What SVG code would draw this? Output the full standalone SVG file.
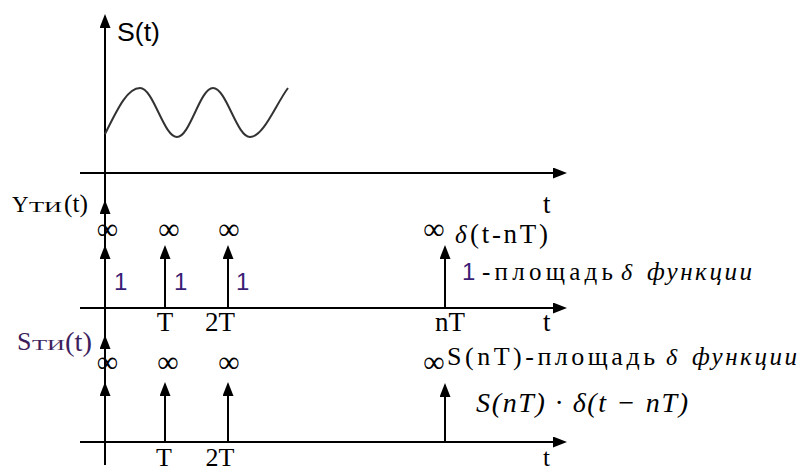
<svg xmlns="http://www.w3.org/2000/svg" width="803" height="471" viewBox="0 0 803 471">
<defs>
<marker id="ah" viewBox="0 0 14 11" refX="10" refY="5.5" markerWidth="14" markerHeight="11" markerUnits="userSpaceOnUse" orient="auto">
<path d="M0,0 L14,5.5 L0,11 z" fill="#000"/>
</marker>
<style>
.ax{stroke:#000;stroke-width:2;fill:none;marker-end:url(#ah)}
.sr{font-family:"Liberation Serif","Times New Roman","DejaVu Serif",serif;fill:#000}
.si{font-family:"Liberation Serif","Times New Roman","DejaVu Serif",serif;font-style:italic;fill:#000}
.ss{font-family:"Liberation Sans",Arial,sans-serif;fill:#000}
.inf{font-family:"Liberation Serif","Times New Roman","DejaVu Serif",serif;font-size:30px;fill:#000;text-anchor:middle}
.one{font-family:"Liberation Sans",Arial,sans-serif;font-size:24px;fill:#3b1e74}
.pur{fill:#3e1f5e}
</style>
</defs>
<rect width="803" height="471" fill="#fff"/>

<g id="connectors">
<line class="ax" x1="105" y1="465" x2="105" y2="18"/>
<line class="ax" x1="80" y1="173" x2="563" y2="173"/>
<line class="ax" x1="80" y1="308" x2="563" y2="308"/>
<line class="ax" x1="80" y1="442" x2="563" y2="442"/>
<line class="ax" x1="105" y1="222" x2="105" y2="204"/>
<line class="ax" x1="105" y1="308" x2="105" y2="249"/>
<line class="ax" x1="165" y1="308" x2="165" y2="249"/>
<line class="ax" x1="228" y1="308" x2="228" y2="249"/>
<line class="ax" x1="445" y1="308" x2="445" y2="249"/>
<line class="ax" x1="105" y1="356" x2="105" y2="339"/>
<line class="ax" x1="105" y1="442" x2="105" y2="386"/>
<line class="ax" x1="165" y1="442" x2="165" y2="386"/>
<line class="ax" x1="228" y1="442" x2="228" y2="386"/>
<line class="ax" x1="445" y1="442" x2="445" y2="387"/>
</g>

<g id="signal">
<path d="M105,134 C117,110 127,88 140,88 C153.4,88 163.6,137 177,137 C190.1,137 199.9,88 213,88 C226.4,88 236.6,137 250,137 C263.5,137 276,104 288,88" stroke="#333" stroke-width="2" fill="none"/>
<text class="ss" x="117" y="41" font-size="26" textLength="43" lengthAdjust="spacingAndGlyphs">S(t)</text>
<text class="sr" x="543" y="213" font-size="27">t</text>
</g>

<g id="impulses">
<text class="sr" x="12" y="212" font-size="23">Y</text>
<text class="sr" x="29" y="212" font-size="15" textLength="33" lengthAdjust="spacingAndGlyphs">ТИ</text>
<text class="sr" x="64" y="212" font-size="25" textLength="24" lengthAdjust="spacingAndGlyphs">(t)</text>
<text class="inf" x="107.5" y="239">∞</text>
<text class="inf" x="169" y="239">∞</text>
<text class="inf" x="229" y="239">∞</text>
<text class="inf" x="434" y="239">∞</text>
<text class="si" x="455" y="243" font-size="25">δ</text>
<text class="sr" x="470" y="243" font-size="27" textLength="78" lengthAdjust="spacing">(t-nT)</text>
<text class="one" x="114" y="290">1</text>
<text class="one" x="174" y="290">1</text>
<text class="one" x="236" y="290">1</text>
<text class="one" x="462" y="280" font-size="21">1</text>
<text class="sr" x="482" y="280" font-size="25" textLength="131" lengthAdjust="spacing">-площадь</text>
<text class="si" x="621" y="280" font-size="24">δ</text>
<text class="si" x="647" y="280" font-size="25" textLength="105" lengthAdjust="spacing">функции</text>
<text class="sr" x="165" y="331" font-size="27" text-anchor="middle">T</text>
<text class="sr" x="220" y="331" font-size="27" text-anchor="middle">2T</text>
<text class="sr" x="450" y="331" font-size="27" text-anchor="middle">nT</text>
<text class="sr" x="543" y="331" font-size="27">t</text>
</g>

<g id="samples">
<text class="sr pur" x="17" y="350" font-size="26">S</text>
<text class="sr pur" x="32" y="350" font-size="15" textLength="33" lengthAdjust="spacingAndGlyphs">ТИ</text>
<text class="sr pur" x="65" y="351" font-size="27" textLength="27" lengthAdjust="spacingAndGlyphs">(t)</text>
<text class="inf" x="107.5" y="372">∞</text>
<text class="inf" x="168" y="372">∞</text>
<text class="inf" x="229" y="372">∞</text>
<text class="inf" x="434" y="372">∞</text>
<text class="sr" x="447" y="365" font-size="26" textLength="208" lengthAdjust="spacing">S(nT)-площадь</text>
<text class="si" x="666" y="365" font-size="24">δ</text>
<text class="si" x="692" y="365" font-size="25" textLength="105" lengthAdjust="spacing">функции</text>
<text class="si" x="476" y="412" font-size="28" textLength="212" lengthAdjust="spacing">S(nT) · δ(t − nT)</text>
<text class="sr" x="164" y="466" font-size="26" text-anchor="middle">T</text>
<text class="sr" x="220" y="466" font-size="26" text-anchor="middle">2T</text>
<text class="sr" x="543" y="466" font-size="25">t</text>
</g>
</svg>
